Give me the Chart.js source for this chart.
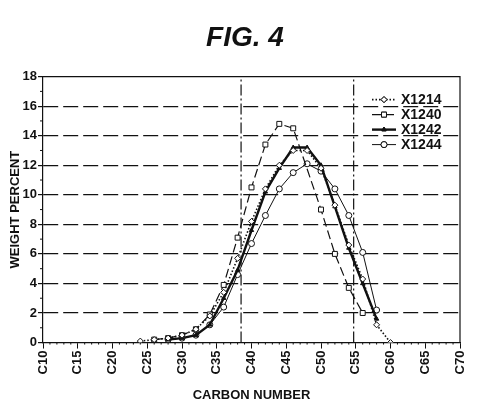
<!DOCTYPE html>
<html>
<head>
<meta charset="utf-8">
<script src="https://cdn.jsdelivr.net/npm/chart.js@4/dist/chart.umd.min.js"></script>
<style>
  html, body { margin: 0; padding: 0; background: #fff; }
  canvas { display: block; }
</style>
</head>
<body>
<canvas id="fig" width="490" height="409"></canvas>
<script>
// carbon numbers where points were measured
const carbons = [24, 26, 28, 30, 32, 34, 36, 38, 40, 42, 44, 46, 48, 50, 52, 54, 56, 58, 60];
// weight percent (null = no point)
const x1214 = [0.1, 0.2, 0.3, 0.5, 0.9, 1.8, 3.4, 5.7, 8.2, 10.4, 12.0, 13.0, 13.0, 11.8, 9.3, 6.6, 4.3, 1.2, 0];
const x1240 = [null, 0.2, 0.3, 0.5, 0.9, 1.9, 3.9, 7.1, 10.5, 13.4, 14.8, 14.5, null, 9.0, 6.0, 3.7, 2.0, null, null];
const x1242 = [null, null, 0.2, 0.3, 0.5, 1.2, 3.0, 4.9, 7.6, 10.2, 11.8, 13.2, 13.2, 12.0, 9.2, 6.4, 4.0, 1.6, null];
const x1244 = [null, null, 0.2, 0.3, 0.5, 1.2, 2.4, 4.6, 6.7, 8.6, 10.4, 11.5, 12.1, 11.6, 10.4, 8.6, 6.1, 2.2, null];
const seriesNames = ['X1214', 'X1240', 'X1242', 'X1244'];
// cut points marked by the dash-dot verticals
const cutLines = [38.5, 54.7];
const xTicks = [10, 15, 20, 25, 30, 35, 40, 45, 50, 55, 60, 65, 70];
const yTicks = [0, 2, 4, 6, 8, 10, 12, 14, 16, 18];

const FONT = "'Liberation Sans', Arial, sans-serif";
const INK = '#111';

const pts = arr => carbons.map((c, i) => ({ x: c, y: arr[i] })).filter(p => p.y !== null);

const styles = [
  { dash: [1.5, 2], width: 1.6, point: 'rectRot', r: 3, fill: '#fff' },
  { dash: [9, 4], width: 1.2, point: 'rect', r: 3.5, fill: '#fff' },
  { dash: [], width: 2.4, point: 'triangle', r: 2.5, fill: INK },
  { dash: [], width: 1, point: 'circle', r: 3, fill: '#fff' }
];

const datasets = [x1214, x1240, x1242, x1244].map((arr, i) => ({
  label: seriesNames[i],
  data: pts(arr),
  borderColor: INK,
  borderWidth: styles[i].width,
  borderDash: styles[i].dash,
  pointStyle: styles[i].point,
  pointRadius: styles[i].r,
  pointBorderWidth: 1,
  pointBackgroundColor: styles[i].fill,
  pointBorderColor: INK,
  tension: 0
}));

cutLines.forEach(c => datasets.push({
  label: 'cut',
  data: [{ x: c, y: 0 }, { x: c, y: 18 }],
  borderColor: INK,
  borderWidth: 1.2,
  borderDash: [11, 3, 2, 3],
  pointRadius: 0
}));

// frame, minor ticks and the line-sample legend
const decor = {
  id: 'decor',
  afterDatasetsDraw(chart) {
    const { ctx, chartArea: a, scales } = chart;
    ctx.save();
    ctx.strokeStyle = INK;
    ctx.lineWidth = 1.2;
    ctx.setLineDash([]);
    ctx.beginPath();
    ctx.moveTo(a.left, a.top); ctx.lineTo(a.right, a.top); ctx.lineTo(a.right, a.bottom);
    ctx.stroke();
    ctx.lineWidth = 1;
    for (let v = 1; v < 18; v += 2) {
      const y = scales.y.getPixelForValue(v);
      ctx.beginPath(); ctx.moveTo(a.left - 3, y); ctx.lineTo(a.left, y); ctx.stroke();
    }
    for (let v = 11; v < 70; v++) {
      if (v % 5 === 0) continue;
      const x = scales.x.getPixelForValue(v);
      ctx.beginPath(); ctx.moveTo(x, a.bottom); ctx.lineTo(x, a.bottom + 2); ctx.stroke();
    }
    // legend
    const lx = a.right - 88, ly = a.top + 23;
    ctx.font = `bold 14px ${FONT}`;
    ctx.textBaseline = 'middle';
    ctx.fillStyle = INK;
    seriesNames.forEach((name, i) => {
      const y = ly + i * 15;
      const s = styles[i];
      ctx.setLineDash(s.dash);
      ctx.lineWidth = s.width;
      ctx.beginPath(); ctx.moveTo(lx, y); ctx.lineTo(lx + 24, y); ctx.stroke();
      ctx.setLineDash([]);
      ctx.lineWidth = 1;
      Chart.helpers.drawPoint(ctx, { pointStyle: s.point, radius: s.r, borderWidth: 1 }, lx + 12, y);
      ctx.fillStyle = s.fill;
      ctx.fill();
      ctx.stroke();
      ctx.fillStyle = INK;
      ctx.fillText(name, lx + 29, y + 1);
    });
    ctx.restore();
  }
};

new Chart(document.getElementById('fig'), {
  type: 'line',
  data: { datasets },
  plugins: [decor],
  options: {
    responsive: false,
    animation: false,
    devicePixelRatio: 1,
    layout: { padding: { top: 0, right: 0, bottom: 6, left: 0 } },
    plugins: {
      legend: { display: false },
      tooltip: { enabled: false },
      title: {
        display: true,
        text: 'FIG. 4',
        color: INK,
        font: { family: FONT, size: 28, weight: 'bold', style: 'italic' },
        padding: { top: 21, bottom: 22 }
      }
    },
    scales: {
      x: {
        type: 'linear',
        min: 10,
        max: 70,
        afterBuildTicks: s => { s.ticks = xTicks.map(v => ({ value: v })); },
        ticks: {
          color: INK,
          font: { family: FONT, size: 13, weight: 'bold' },
          minRotation: 90,
          maxRotation: 90,
          padding: 2,
          callback: v => 'C' + v
        },
        grid: { drawOnChartArea: false, tickLength: 6, color: INK, tickColor: INK },
        border: { color: INK, width: 1.2 },
        title: {
          display: true,
          text: 'CARBON NUMBER',
          color: INK,
          font: { family: FONT, size: 13, weight: 'bold' },
          padding: { top: 11, bottom: 0 }
        }
      },
      y: {
        min: 0,
        max: 18,
        afterBuildTicks: s => { s.ticks = yTicks.map(v => ({ value: v })); },
        afterFit: s => { s.width = 43; },
        ticks: {
          color: INK,
          font: { family: FONT, size: 13, weight: 'bold' },
          padding: 1
        },
        grid: {
          tickLength: 5,
          lineWidth: 1.2,
          color: c => (c.tick && (c.tick.value === 0 || c.tick.value === 18)) ? 'rgba(0,0,0,0)' : INK,
          tickColor: INK
        },
        border: { color: INK, width: 1.2, dash: [15, 5] },
        title: {
          display: true,
          text: 'WEIGHT PERCENT',
          color: INK,
          font: { family: FONT, size: 13, weight: 'bold' },
          padding: { top: 8, bottom: 0 }
        }
      },
      // empty right margin so the title centres on the page
      pad: {
        position: 'right',
        display: true,
        afterFit: s => { s.width = 30; },
        ticks: { display: false },
        grid: { display: false },
        border: { display: false }
      }
    }
  }
});
</script>
</body>
</html>
